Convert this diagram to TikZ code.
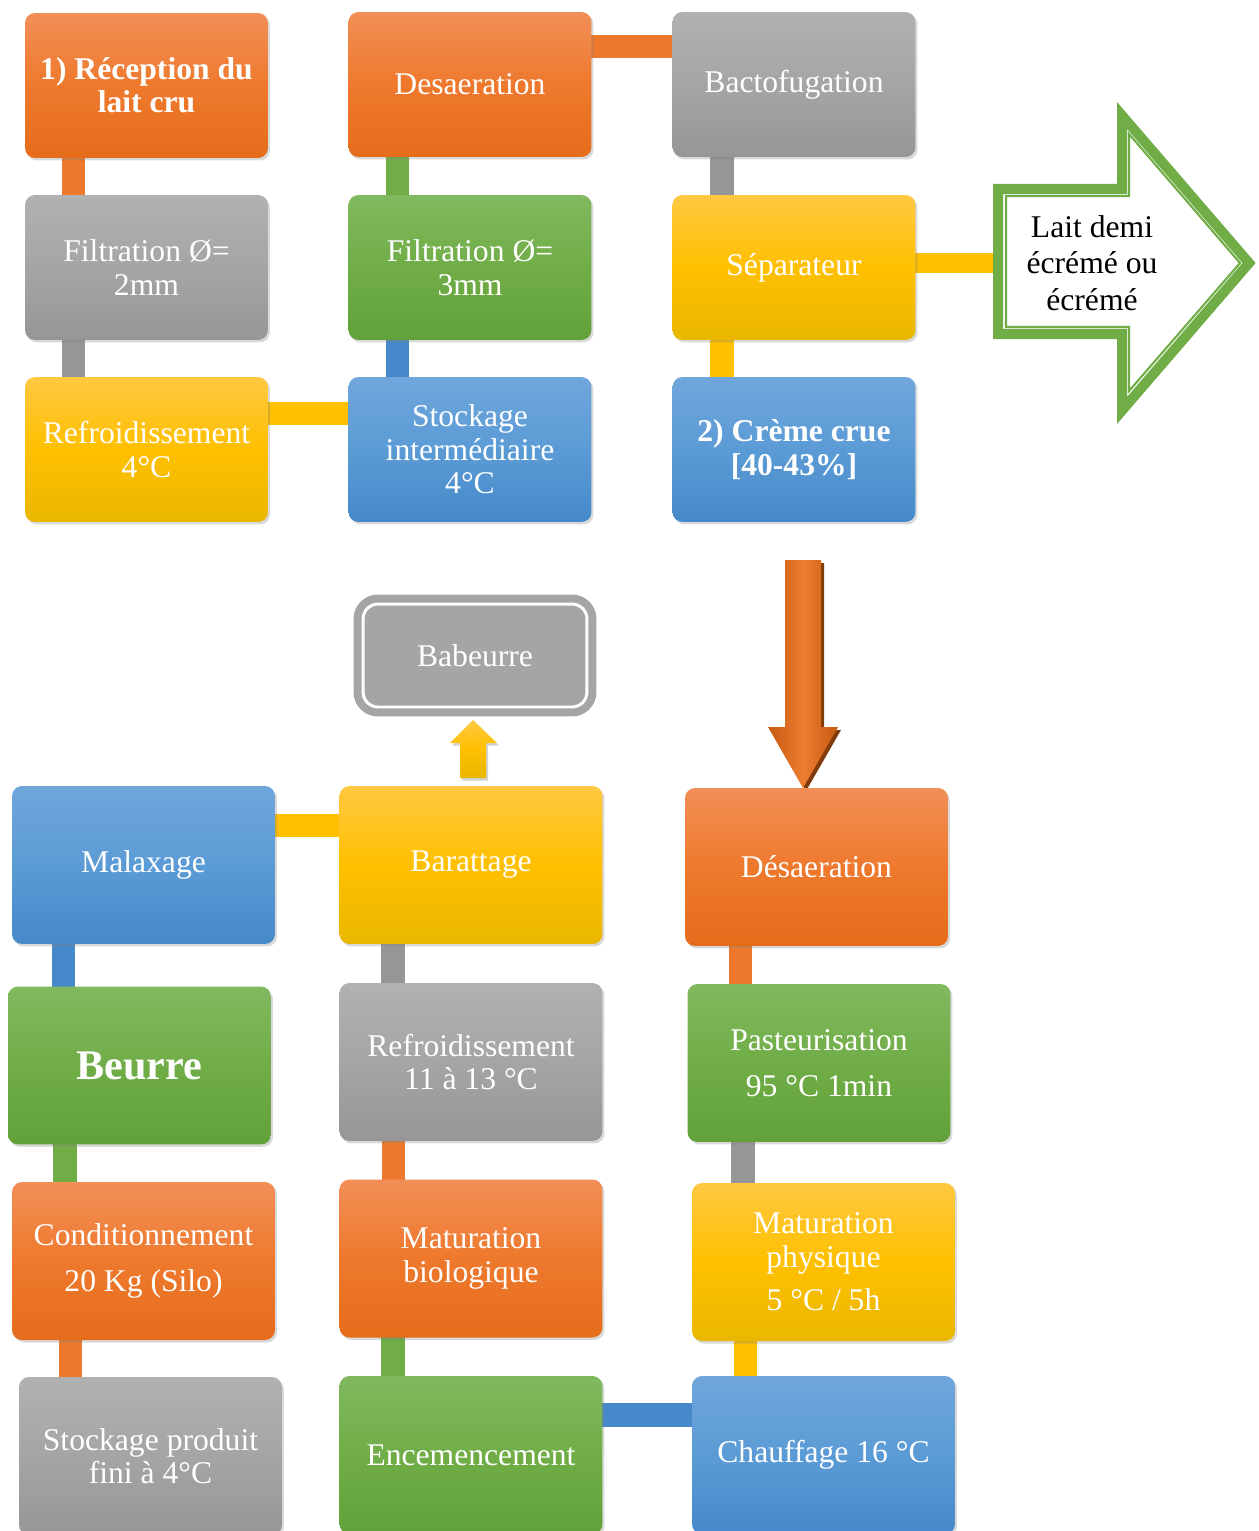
\documentclass[tikz,border=0pt]{standalone}
\usepackage{fontspec}
\setmainfont{Liberation Serif}
\usetikzlibrary{shadows,backgrounds,calc}
\definecolor{orT}{RGB}{242,143,87}
\definecolor{orM}{RGB}{238,121,45}
\definecolor{orB}{RGB}{229,108,27}
\definecolor{grT}{RGB}{177,177,177}
\definecolor{grM}{RGB}{165,165,165}
\definecolor{grB}{RGB}{150,150,150}
\definecolor{yeT}{RGB}{255,200,66}
\definecolor{yeM}{RGB}{255,192,0}
\definecolor{yeB}{RGB}{233,183,0}
\definecolor{blT}{RGB}{112,166,220}
\definecolor{blM}{RGB}{91,155,213}
\definecolor{blB}{RGB}{70,137,202}
\definecolor{gnT}{RGB}{129,185,95}
\definecolor{gnM}{RGB}{112,173,71}
\definecolor{gnB}{RGB}{98,161,58}
\definecolor{arD}{RGB}{197,90,17}
\definecolor{arL}{RGB}{237,125,49}
\definecolor{arS}{RGB}{130,60,12}
\tikzset{
  box/.style={rounded corners=0.2cm, align=center, text=white, inner sep=2pt,
    font=\fontsize{18}{19}\selectfont,
    drop shadow={opacity=0.3, shadow xshift=0.04cm, shadow yshift=-0.05cm}},
  smallbox/.style={box, minimum width=4.86cm, minimum height=2.9cm},
  bigbox/.style={box, minimum width=5.26cm, minimum height=3.16cm},
  boldtext/.style={font=\fontsize{18}{19}\selectfont\bfseries},
  orbox/.style={top color=orT, bottom color=orB, middle color=orM},
  grbox/.style={top color=grT, bottom color=grB, middle color=grM},
  yebox/.style={top color=yeT, bottom color=yeB, middle color=yeM},
  blbox/.style={top color=blT, bottom color=blB, middle color=blM},
  gnbox/.style={top color=gnT, bottom color=gnB, middle color=gnM},
  bar/.style={line width=13.6pt},
  babstyle/.style={fill=grM, draw=white, line width=1.7pt, rounded corners=0.3cm,
    minimum width=4.48cm, minimum height=2.06cm, text=white,
    font=\fontsize{18}{19}\selectfont,
    preaction={draw=grM, line width=10.8pt}},
}
\begin{document}
\begin{tikzpicture}[x=0.02cm, y=-0.02cm]
\useasboundingbox (0,0) rectangle (1258,1531);
\clip (0,0) rectangle (1258,1531);

% ---------- top part ----------
\node[smallbox, orbox, boldtext] (a1) at (146.5,85.5) {1) Réception du\\lait cru};
\node[smallbox, orbox] (a2) at (470,84.5) {Desaeration};
\node[smallbox, grbox] (a3) at (794,84.5) {Bactofugation};
\node[smallbox, grbox] (b1) at (146.5,267.5) {Filtration Ø=\\2mm};
\node[smallbox, gnbox] (b2) at (470,267.5) {Filtration Ø=\\3mm};
\node[smallbox, yebox] (b3) at (794,267.5) {Séparateur};
\node[smallbox, yebox] (c1) at (146.5,449.5) {Refroidissement\\4°C};
\node[smallbox, blbox] (c2) at (470,449.5) {Stockage\\intermédiaire\\4°C};
\node[smallbox, blbox, boldtext] (c3) at (794,449.5) {2) Crème crue\\{}[40-43\%]};

% big green outline arrow
\draw[gnM, line width=5.7pt, fill=white]
  (998,189) -- (1122,189) -- (1122,115.5) -- (1249,263) -- (1122,410.5)
  -- (1122,334) -- (998,334) -- cycle;
\draw[gnM, line width=1.2pt]
  (1006,196) -- (1129,196) -- (1129,134) -- (1240,263) -- (1129,391)
  -- (1129,327) -- (1006,327) -- cycle;
\node[align=center, font=\fontsize{18}{20.7}\selectfont] (lait) at (1092,263)
  {Lait demi\\écrémé ou\\écrémé};

% orange down arrow
\fill[arS] (788,563) -- (824,563) -- (824,730) -- (841,730) -- (806,791)
  -- (771,730) -- (788,730) -- cycle;
\shade[left color=arD, right color=arD, middle color=arL]
  (785,560) -- (821,560) -- (821,727) -- (838,727) -- (803,788)
  -- (768,727) -- (785,727) -- cycle;

% ---------- bottom part ----------
\node[babstyle] (bab) at (475,655.5) {Babeurre};
\shade[top color=yeT, bottom color=yeB, middle color=yeM,
  drop shadow={opacity=0.35, shadow xshift=0.04cm, shadow yshift=-0.05cm}]
  (460,778) -- (460,743) -- (450,743) -- (473,720) -- (497,743)
  -- (486,743) -- (486,778) -- cycle;

\node[bigbox, blbox] (mal) at (143.5,865) {Malaxage};
\node[bigbox, yebox] (barr) at (471,865) {Barattage};
\node[bigbox, orbox] (des) at (816.5,867) {Désaeration};
\node[bigbox, gnbox, font=\fontsize{24}{26}\selectfont\bfseries] (beu) at (139.5,1065.5) {Beurre};
\node[bigbox, grbox] (ref) at (471,1062) {Refroidissement\\11 à 13 °C};
\node[bigbox, gnbox] (pas) at (819,1063) {Pasteurisation\\[7pt]95 °C 1min};
\node[bigbox, orbox] (cond) at (143.5,1261) {Conditionnement\\[7pt]20 Kg (Silo)};
\node[bigbox, orbox] (matb) at (471,1258.5) {Maturation\\biologique};
\node[bigbox, yebox] (matp) at (823.5,1262) {Maturation\\physique\\[6pt]5 °C / 5h};
\node[bigbox, grbox] (stk) at (150.5,1456) {Stockage produit\\fini à 4°C};
\node[bigbox, gnbox] (enc) at (471,1455) {Encemencement};
\node[bigbox, blbox] (chf) at (823.5,1455) {Chauffage 16 °C};

% ---------- connector bars ----------
\begin{pgfonlayer}{background}
  \draw[bar, orM] (a1.center -| 73.5,0) -- (b1.center -| 73.5,0);
  \draw[bar, grB] (b1.center -| 73.5,0) -- (c1.center -| 73.5,0);
  \draw[bar, yeM] (c1.center |- 0,413.5) -- (c2.center |- 0,413.5);
  \draw[bar, blB] (c2.center -| 397.5,0) -- (b2.center -| 397.5,0);
  \draw[bar, gnM] (b2.center -| 397.5,0) -- (a2.center -| 397.5,0);
  \draw[bar, orM] (a2.center |- 0,46.5) -- (a3.center |- 0,46.5);
  \draw[bar, grB] (a3.center -| 722,0) -- (b3.center -| 722,0);
  \draw[bar, yeM] (b3.center -| 722,0) -- (c3.center -| 722,0);
  \draw[bar, yeM, line width=11pt] (b3.center |- lait) -- (lait);

  \draw[bar, yeM] (mal.center |- 0,825.5) -- (barr.center |- 0,825.5);
  \draw[bar, blB] (mal.center -| 63.5,0) -- (beu.center -| 63.5,0);
  \draw[bar, gnM] (beu.center -| 65,0) -- (cond.center -| 65,0);
  \draw[bar, orM] (cond.center -| 70.5,0) -- (stk.center -| 70.5,0);
  \draw[bar, grB] (barr.center -| 393,0) -- (ref.center -| 393,0);
  \draw[bar, orM] (ref.center -| 393.5,0) -- (matb.center -| 393.5,0);
  \draw[bar, gnM] (matb.center -| 393,0) -- (enc.center -| 393,0);
  \draw[bar, blB] (enc.center |- 0,1415) -- (chf.center |- 0,1415);
  \draw[bar, yeM] (chf.center -| 745.5,0) -- (matp.center -| 745.5,0);
  \draw[bar, grB] (matp.center -| 743,0) -- (pas.center -| 743,0);
  \draw[bar, orM] (pas.center -| 740.5,0) -- (des.center -| 740.5,0);
\end{pgfonlayer}
\end{tikzpicture}
\end{document}
